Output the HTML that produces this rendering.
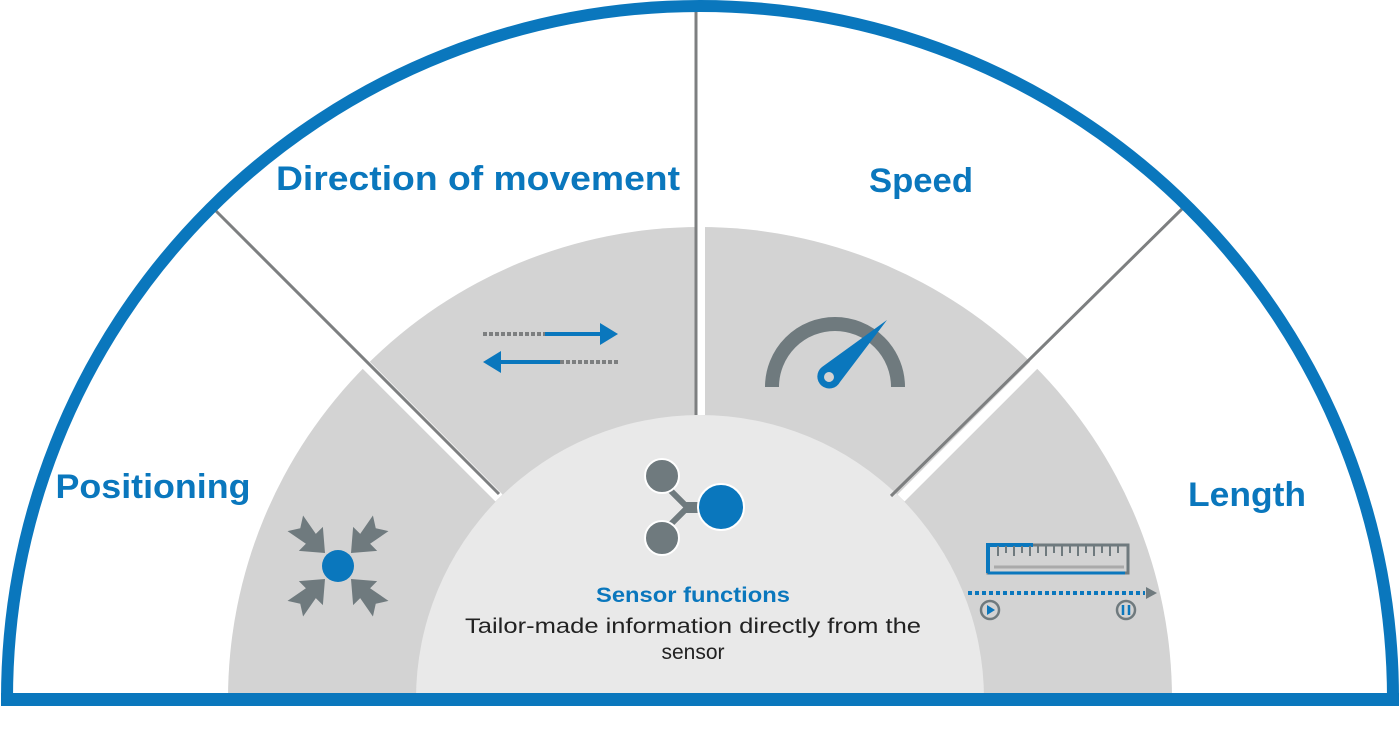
<!DOCTYPE html>
<html><head><style>body{margin:0;background:#fff}svg{display:block}</style></head><body>
<svg width="1400" height="738" viewBox="0 0 1400 738" xmlns="http://www.w3.org/2000/svg" font-family="Liberation Sans, sans-serif">
<rect width="1400" height="738" fill="#fff"/>
<path d="M228 699 A472 472 0 0 1 1172 699 Z" fill="#d3d3d3"/>
<path d="M416 699 A284 284 0 0 1 984 699 Z" fill="#e9e9e9"/>
<g stroke="#fff" stroke-width="10">
<line x1="700" y1="415" x2="700" y2="10"/>
<line x1="499" y1="498" x2="210" y2="209"/>
<line x1="901" y1="498" x2="1190" y2="209"/>
</g>
<g stroke="#7d7f80" stroke-width="3">
<line x1="696" y1="415" x2="696" y2="10"/>
<line x1="499" y1="494" x2="214" y2="209"/>
<line x1="891" y1="496" x2="1184" y2="207"/>
</g>
<path d="M7 699 A693 693 0 0 1 1393 699" fill="none" stroke="#0a77bd" stroke-width="12"/>
<rect x="1" y="693" width="1398" height="13" fill="#0a77bd"/>
<g fill="#0a77bd" font-weight="bold" font-size="34" text-anchor="middle">
<text x="478" y="190" textLength="404" lengthAdjust="spacingAndGlyphs">Direction of movement</text>
<text x="921" y="192" textLength="104" lengthAdjust="spacingAndGlyphs">Speed</text>
<text x="153" y="498" textLength="195" lengthAdjust="spacingAndGlyphs">Positioning</text>
<text x="1247" y="506" textLength="118" lengthAdjust="spacingAndGlyphs">Length</text>
<text x="693" y="602" font-size="21" textLength="194" lengthAdjust="spacingAndGlyphs">Sensor functions</text>
</g>
<g fill="#222" font-size="21" text-anchor="middle">
<text x="693" y="633" textLength="456" lengthAdjust="spacingAndGlyphs">Tailor-made information directly from the</text>
<text x="693" y="659">sensor</text>
</g>
<!-- arrows -->
<line x1="483" y1="334" x2="545" y2="334" stroke="#7d7f80" stroke-width="4" stroke-dasharray="4 2"/>
<line x1="545" y1="334" x2="602" y2="334" stroke="#0a77bd" stroke-width="4"/>
<path d="M600 323 L618 334 L600 345 Z" fill="#0a77bd"/>
<line x1="560" y1="362" x2="618" y2="362" stroke="#7d7f80" stroke-width="4" stroke-dasharray="4 2"/>
<line x1="500" y1="362" x2="560" y2="362" stroke="#0a77bd" stroke-width="4"/>
<path d="M501 351 L483 362 L501 373 Z" fill="#0a77bd"/>
<!-- speedometer -->
<path d="M772 387 A63 63 0 0 1 898 387" fill="none" stroke="#6f7a7e" stroke-width="14"/>
<path d="M887 320 L840 382 A12 12 0 1 1 822 367 Z" fill="#0a77bd"/>
<circle cx="829" cy="377" r="5" fill="#d3d3d3"/>
<!-- sensor icon -->
<path d="M670 490 L685 505 L700 505 M670 525 L685 510 L700 510" stroke="#6f7a7e" stroke-width="6" fill="none"/>
<circle cx="662" cy="476" r="17" fill="#6f7a7e" stroke="#fff" stroke-width="2"/>
<circle cx="662" cy="538" r="17" fill="#6f7a7e" stroke="#fff" stroke-width="2"/>
<circle cx="721" cy="507" r="23" fill="#0a77bd" stroke="#fff" stroke-width="2"/>
<!-- positioning -->
<g fill="#6f7a7e">
<path id="a" d="M0 0 L-20 -17 L-20 -7 L-42 -11 L-35 0 L-42 11 L-20 7 L-20 17 Z" transform="translate(325 553) rotate(45)"/>
<path d="M0 0 L-20 -17 L-20 -7 L-42 -11 L-35 0 L-42 11 L-20 7 L-20 17 Z" transform="translate(351 553) rotate(135)"/>
<path d="M0 0 L-20 -17 L-20 -7 L-42 -11 L-35 0 L-42 11 L-20 7 L-20 17 Z" transform="translate(351 579) rotate(225)"/>
<path d="M0 0 L-20 -17 L-20 -7 L-42 -11 L-35 0 L-42 11 L-20 7 L-20 17 Z" transform="translate(325 579) rotate(315)"/>
</g>
<circle cx="338" cy="566" r="16" fill="#0a77bd"/>
<!-- ruler -->
<rect x="988" y="545" width="140" height="28" fill="none" stroke="#6f7a7e" stroke-width="3"/>
<path d="M988 573 V545 H1033" fill="none" stroke="#0a77bd" stroke-width="4"/>
<path d="M988 573 H1125" stroke="#0a77bd" stroke-width="3"/>
<line x1="994" y1="567" x2="1124" y2="567" stroke="#aaa" stroke-width="3"/>
<g stroke="#6f7a7e" stroke-width="2">
<path d="M998 546v10M1006 546v7M1014 546v10M1022 546v7M1030 546v10M1038 546v7M1046 546v10M1054 546v7M1062 546v10M1070 546v7M1078 546v10M1086 546v7M1094 546v10M1102 546v7M1110 546v10M1118 546v7"/>
</g>
<line x1="968" y1="593" x2="1145" y2="593" stroke="#0a77bd" stroke-width="4" stroke-dasharray="4 3"/>
<path d="M1146 587 L1157 593 L1146 599 Z" fill="#6f7a7e"/>
<circle cx="990" cy="610" r="9" fill="none" stroke="#6f7a7e" stroke-width="2.5"/>
<path d="M987 605 L995 610 L987 615 Z" fill="#0a77bd"/>
<circle cx="1126" cy="610" r="9" fill="none" stroke="#6f7a7e" stroke-width="2.5"/>
<path d="M1123 605v10M1129 605v10" stroke="#0a77bd" stroke-width="2.5"/>
</svg>
</body></html>
